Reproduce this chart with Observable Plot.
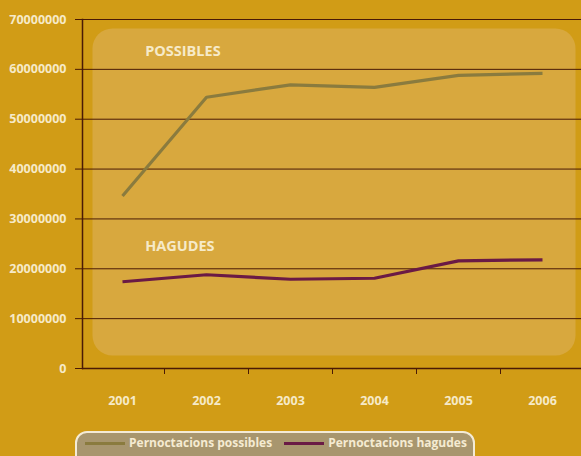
<!DOCTYPE html>
<html>
<head>
<meta charset="utf-8">
<script src="https://cdn.jsdelivr.net/npm/d3@7"></script>
<script src="https://cdn.jsdelivr.net/npm/@observablehq/plot@0.6"></script>
<style>
  html, body { margin: 0; padding: 0; background: #D19C16; overflow: hidden; width: 581px; height: 456px; }
  #chart svg { display: block; background: transparent; }
  #legend {
    position: absolute; left: 75px; top: 431px; width: 400px; height: 40px;
    background: #A8966E; border: 2px solid #F4EBD6; border-radius: 12px;
    box-sizing: border-box; font: 700 12px "Open Sans", sans-serif; color: #F5EBD2;
    display: flex; flex-wrap: nowrap; align-items: center; height: 40px;
    padding: 0 0 16px 8px; white-space: nowrap; line-height: 16px;
  }
  .item { display: flex; align-items: center; margin-right: 12px; white-space: nowrap; }
  .sw { display: inline-block; width: 40px; height: 3px; margin-right: 4px; }
</style>
</head>
<body>
<div id="chart"></div>
<div id="legend"></div>
<script>
const years = [2001, 2002, 2003, 2004, 2005, 2006];
const possibles = [34600000, 54400000, 56900000, 56400000, 58800000, 59200000];
const hagudes = [17400000, 18800000, 17900000, 18100000, 21600000, 21800000];
const yTicks = [0, 10000000, 20000000, 30000000, 40000000, 50000000, 60000000, 70000000];
const bandEdges = [2001.5, 2002.5, 2003.5, 2004.5, 2005.5];
const seriesNames = ["Pernoctacions possibles", "Pernoctacions hagudes"];
const seriesColors = ["#8A7B3E", "#6A1A45"];
const annotations = [
  {text: "POSSIBLES", x: 2001.27, y: 63600000},
  {text: "HAGUDES", x: 2001.27, y: 24400000}
];

const rows = [];
years.forEach((yr, i) => {
  rows.push({year: yr, value: possibles[i], series: seriesNames[0]});
  rows.push({year: yr, value: hagudes[i], series: seriesNames[1]});
});

const cream = "#F6EAC8";
const brown = "#4A1A06";

const plot = Plot.plot({
  width: 581,
  height: 420,
  marginLeft: 82,
  marginRight: 0,
  marginTop: 19,
  marginBottom: 52,
  style: {background: "transparent", fontFamily: "'Open Sans', sans-serif", fontWeight: 700, fontSize: "12.5px", color: cream},
  x: {domain: [2000.5, 2006.5], range: [80, 584]},
  y: {domain: [0, 70000000]},
  color: {domain: seriesNames, range: seriesColors},
  marks: [
    Plot.frame({fill: "#D8A83E", stroke: null, rx: 20, insetLeft: 10, insetRight: 6, insetTop: 9, insetBottom: 13}),
    Plot.gridY(yTicks, {stroke: brown, strokeOpacity: 1, strokeWidth: 1}),
    Plot.axisY({ticks: yTicks, tickSize: 7, tickPadding: 9, tickFormat: d => String(d), stroke: brown, fill: cream, fontSize: 12.5, fontWeight: 700, label: null}),
    Plot.axisX({ticks: bandEdges, tickSize: 6, tickFormat: () => "", stroke: brown, label: null}),
    Plot.axisX({ticks: years, tickSize: 0, tickPadding: 28, tickFormat: d => String(d), fill: cream, fontSize: 12.5, fontWeight: 700, label: null}),
    Plot.ruleY([0], {stroke: brown, strokeWidth: 1.5}),
    Plot.frame({anchor: "left", stroke: brown, strokeWidth: 1.5}),
    Plot.line(rows, {x: "year", y: "value", z: "series", stroke: "series", strokeWidth: 3.2, strokeLinejoin: "round", strokeLinecap: "butt"}),
    Plot.text(annotations, {x: "x", y: "y", text: "text", textAnchor: "start", fill: cream, fontSize: 14.5, fontWeight: 700})
  ]
});
document.getElementById("chart").appendChild(plot);

const legend = document.getElementById("legend");
seriesNames.forEach((name, i) => {
  const item = document.createElement("span");
  item.className = "item";
  const sw = document.createElement("span");
  sw.className = "sw";
  sw.style.background = seriesColors[i];
  item.appendChild(sw);
  item.appendChild(document.createTextNode(name));
  legend.appendChild(item);
});
</script>
</body>
</html>
